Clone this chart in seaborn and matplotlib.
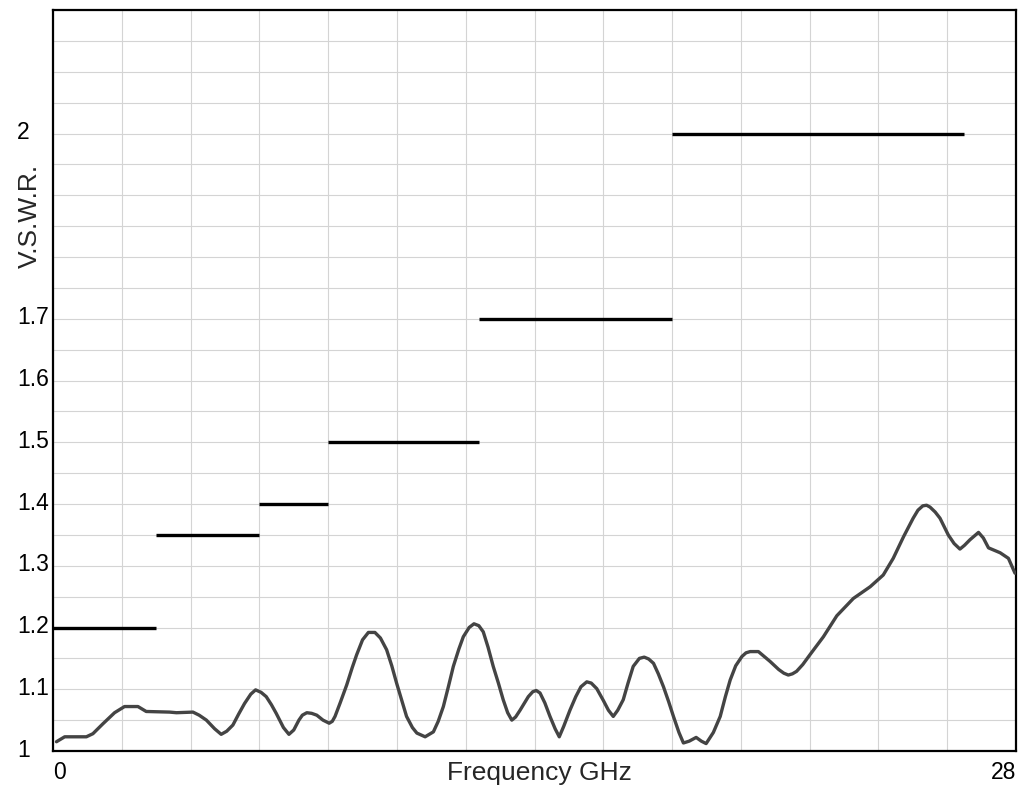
import numpy as np
import pandas as pd
import matplotlib
matplotlib.use("Agg")
import matplotlib.pyplot as plt
import matplotlib.transforms as mtransforms
import seaborn as sns

# -------- data --------
freq = [0.10, 0.34, 0.97, 1.16, 1.45, 1.79, 2.08, 2.47, 2.71, 3.39, 3.59, 4.07,
        4.25, 4.46, 4.70, 4.89, 5.05, 5.23, 5.40, 5.57, 5.75, 5.89, 6.05, 6.20,
        6.35, 6.49, 6.70, 6.86, 7.00, 7.15, 7.25, 7.38, 7.52, 7.67, 7.85, 8.03,
        8.12, 8.20, 8.35, 8.54, 8.70, 8.83, 9.00, 9.17, 9.36, 9.52, 9.70, 9.85,
        9.99, 10.15, 10.28, 10.45, 10.58, 10.82, 11.06, 11.20, 11.35, 11.50,
        11.64, 11.80, 11.93, 12.10, 12.24, 12.38, 12.51, 12.65, 12.80, 12.95,
        13.09, 13.22, 13.34, 13.45, 13.58, 13.82, 13.95, 14.05, 14.16, 14.30,
        14.45, 14.60, 14.72, 14.85, 15.03, 15.20, 15.35, 15.52, 15.65, 15.81,
        16.00, 16.15, 16.29, 16.42, 16.58, 16.72, 16.87, 17.05, 17.19, 17.32,
        17.46, 17.60, 17.75, 17.90, 18.04, 18.20, 18.33, 18.50, 18.70, 18.85,
        18.99, 19.20, 19.40, 19.55, 19.69, 19.85, 20.03, 20.15, 20.27, 20.51,
        20.70, 20.85, 21.10, 21.25, 21.38, 21.50, 21.62, 21.80, 22.01, 22.40,
        22.79, 23.27, 23.76, 24.14, 24.43, 24.73, 25.01, 25.15, 25.29, 25.40,
        25.50, 25.65, 25.79, 26.03, 26.20, 26.37, 26.50, 26.66, 26.91, 27.05,
        27.20, 27.54, 27.78, 27.97]
vswr = [1.015, 1.023, 1.023, 1.028, 1.044, 1.062, 1.072, 1.072, 1.064, 1.063,
        1.062, 1.063, 1.058, 1.050, 1.036, 1.027, 1.032, 1.042, 1.060, 1.077,
        1.092, 1.099, 1.095, 1.088, 1.075, 1.061, 1.038, 1.027, 1.034, 1.050,
        1.058, 1.062, 1.061, 1.058, 1.050, 1.045, 1.048, 1.056, 1.078, 1.107,
        1.135, 1.156, 1.180, 1.192, 1.192, 1.183, 1.164, 1.138, 1.110, 1.080,
        1.056, 1.038, 1.029, 1.023, 1.031, 1.048, 1.072, 1.105, 1.137, 1.165,
        1.185, 1.200, 1.206, 1.203, 1.193, 1.168, 1.137, 1.110, 1.083, 1.062,
        1.050, 1.055, 1.066, 1.088, 1.096, 1.098, 1.094, 1.078, 1.056, 1.036,
        1.023, 1.040, 1.066, 1.088, 1.104, 1.112, 1.110, 1.101, 1.082, 1.066,
        1.056, 1.066, 1.083, 1.110, 1.137, 1.150, 1.152, 1.149, 1.142, 1.125,
        1.104, 1.080, 1.056, 1.030, 1.013, 1.016, 1.022, 1.016, 1.012, 1.030,
        1.056, 1.088, 1.115, 1.138, 1.153, 1.159, 1.161, 1.161, 1.152, 1.145,
        1.132, 1.126, 1.123, 1.125, 1.129, 1.140, 1.156, 1.185, 1.219, 1.247,
        1.266, 1.285, 1.312, 1.347, 1.377, 1.390, 1.397, 1.398, 1.395, 1.387,
        1.377, 1.350, 1.336, 1.327, 1.333, 1.342, 1.354, 1.345, 1.329, 1.321,
        1.312, 1.288]

# limit lines (start GHz, end GHz, VSWR)
lim_start = [0, 3, 6, 8, 12.4, 18]
lim_end = [3, 6, 8, 12.4, 18, 26.5]
lim_value = [1.2, 1.35, 1.4, 1.5, 1.7, 2.0]

ytick_labels = {1.0: "1", 1.1: "1.1", 1.2: "1.2", 1.3: "1.3", 1.4: "1.4",
                1.5: "1.5", 1.6: "1.6", 1.7: "1.7", 2.0: "2"}

df = pd.DataFrame({"freq": freq, "vswr": vswr})

# -------- plot --------
sns.set_style("white")
plt.rcParams["font.family"] = ["Liberation Sans", "DejaVu Sans"]

fig = plt.figure(figsize=(10.32, 8), dpi=100)
ax = fig.add_axes([53 / 1032, 1 - 751 / 800, 963 / 1032, 741 / 800])

sns.lineplot(data=df, x="freq", y="vswr", ax=ax, color="#444444",
             linewidth=2.4, sort=False, zorder=3)
ax.hlines(lim_value, lim_start, lim_end, colors="black", linewidth=2.4, zorder=4)

ax.set_xlim(0, 28)
ax.set_ylim(1, 2.2)

xt = np.arange(0, 29, 2)
ax.set_xticks(xt)
ax.set_xticklabels(["0" if v == 0 else ("28" if v == 28 else "") for v in xt])
yt = np.round(np.arange(1.0, 2.2001, 0.05), 2)
ax.set_yticks(yt)
ax.set_yticklabels([ytick_labels.get(round(v, 2), "") for v in yt])

ax.grid(True, color="#d4d4d4", linewidth=0.8)
ax.set_axisbelow(True)
ax.tick_params(axis="both", length=0, labelsize=16.5, colors="black")
ax.tick_params(axis="y", pad=26)
ax.tick_params(axis="x", pad=7)

offset = mtransforms.ScaledTranslation(0, 2.5 / 72, fig.dpi_scale_trans)
for lab in ax.get_yticklabels():
    lab.set_horizontalalignment("left")
    lab.set_transform(lab.get_transform() + offset)
xl = ax.get_xticklabels()
xl[0].set_horizontalalignment("left")
xl[-1].set_horizontalalignment("right")

for s in ax.spines.values():
    s.set_color("black")
    s.set_linewidth(1.6)

ax.set_xlabel("Frequency GHz", fontsize=19)
ax.xaxis.label.set_verticalalignment("center")
ax.xaxis.set_label_coords(0.505, -0.030)
ax.set_ylabel("V.S.W.R.", fontsize=19)
ax.yaxis.label.set_verticalalignment("center")
ax.yaxis.set_label_coords(-0.024, 0.722)

fig.savefig("out.png", dpi=100)
